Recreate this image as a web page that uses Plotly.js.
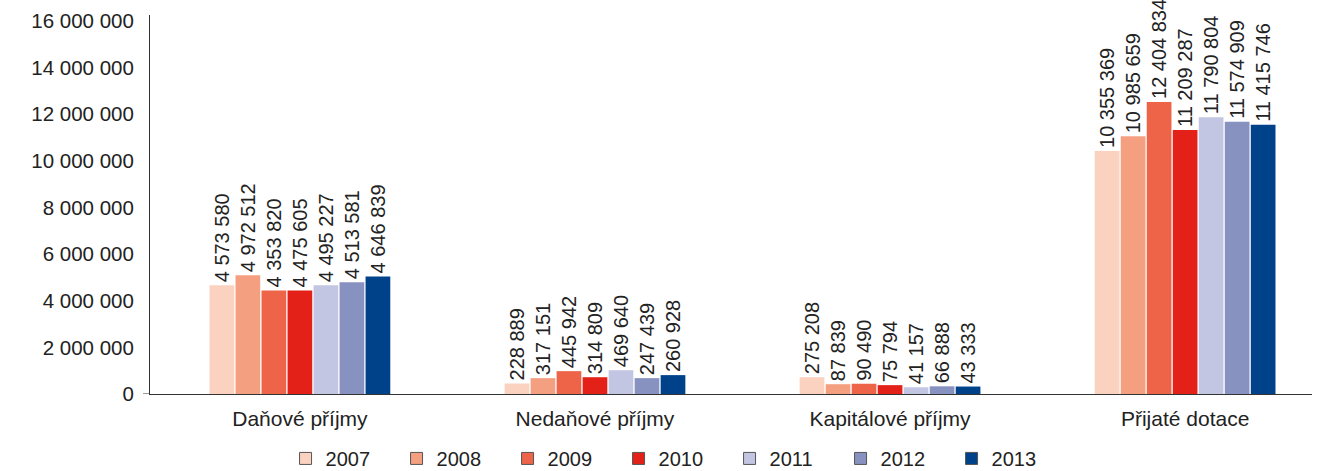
<!DOCTYPE html>
<html>
<head>
<meta charset="utf-8">
<script src="https://cdn.plot.ly/plotly-3.0.1.min.js"></script>
<style>html,body{margin:0;padding:0;background:#fff}#chart{width:1327px;height:471px}</style>
</head>
<body>
<div id="chart"></div>
<script>
const categories = ["Daňové příjmy", "Nedaňové příjmy", "Kapitálové příjmy", "Přijaté dotace"];
const years = ["2007", "2008", "2009", "2010", "2011", "2012", "2013"];

// bar heights as drawn in the picture
const v2007 = [4660000, 450000, 720000, 10420000];
const v2008 = [5090000, 680000, 420000, 11050000];
const v2009 = [4440000, 980000, 440000, 12520000];
const v2010 = [4440000, 720000, 380000, 11320000];
const v2011 = [4660000, 1020000, 290000, 11870000];
const v2012 = [4790000, 680000, 330000, 11670000];
const v2013 = [5040000, 810000, 320000, 11540000];

// value labels printed above the bars
const t2007 = ["4 573 580", "228 889", "275 208", "10 355 369"];
const t2008 = ["4 972 512", "317 151", "87 839", "10 985 659"];
const t2009 = ["4 353 820", "445 942", "90 490", "12 404 834"];
const t2010 = ["4 475 605", "314 809", "75 794", "11 209 287"];
const t2011 = ["4 495 227", "469 640", "41 157", "11 790 804"];
const t2012 = ["4 513 581", "247 439", "66 888", "11 574 909"];
const t2013 = ["4 646 839", "260 928", "43 333", "11 415 746"];

const colors = ["#fbd1bf", "#f49f80", "#ed6448", "#e32119", "#c3c6e3", "#8892c1", "#00428a"];

const yTickVals = [0, 2000000, 4000000, 6000000, 8000000, 10000000, 12000000, 14000000, 16000000];
const yTickText = ["0", "2 000 000", "4 000 000", "6 000 000", "8 000 000", "10 000 000", "12 000 000", "14 000 000", "16 000 000"];

const values = [v2007, v2008, v2009, v2010, v2011, v2012, v2013];
const texts = [t2007, t2008, t2009, t2010, t2011, t2012, t2013];

const FONT = "Liberation Sans, Arial, Helvetica, sans-serif";
const TXT = "#222";

const traces = [];
years.forEach((yr, i) => {
  traces.push({
    type: "bar",
    name: yr,
    x: categories,
    y: values[i],
    text: texts[i],
    textposition: "outside",
    textangle: -90,
    constraintext: "none",
    cliponaxis: false,
    textfont: {family: FONT, size: 20, color: TXT},
    marker: {color: colors[i], line: {width: 0}},
    showlegend: false,
    hoverinfo: "x+y+name"
  });
});
years.forEach((yr, i) => {
  traces.push({
    type: "scatter",
    mode: "markers",
    name: yr,
    x: [null],
    y: [null],
    marker: {symbol: "square", size: 12, color: colors[i], line: {color: "#555", width: 1}},
    showlegend: true
  });
});

const layout = {
  width: 1327,
  height: 471,
  margin: {l: 150, r: 15, t: 15, b: 77, autoexpand: false},
  paper_bgcolor: "#fff",
  plot_bgcolor: "#fff",
  barmode: "group",
  bargap: 0.383,
  bargroupgap: 0.05,
  font: {family: FONT, size: 20, color: TXT},
  xaxis: {
    type: "category",
    range: [-0.508, 3.43],
    showline: true,
    linecolor: "#333",
    linewidth: 1,
    ticks: "",
    showgrid: false,
    zeroline: false,
    tickfont: {family: FONT, size: 21, color: TXT},
    ticklabelstandoff: 6,
    automargin: false,
    fixedrange: true
  },
  yaxis: {
    range: [0, 16250000],
    tickvals: yTickVals,
    ticktext: yTickText,
    showline: true,
    linecolor: "#333",
    linewidth: 1,
    ticks: "",
    showgrid: false,
    zeroline: false,
    tickfont: {family: FONT, size: 20.5, color: TXT},
    ticklabelstandoff: 11,
    automargin: false,
    fixedrange: true
  },
  legend: {
    orientation: "h",
    x: 0.451,
    xanchor: "center",
    y: -0.17,
    yanchor: "middle",
    font: {family: FONT, size: 20, color: TXT},
    entrywidth: 66,
    itemclick: false
  },
  shapes: [
    {type: "line", xref: "paper", yref: "y", x0: -0.006, x1: 0, y0: 0, y1: 0, line: {color: "#333", width: 1}}
  ]
};

Plotly.newPlot("chart", traces, layout, {displayModeBar: false, staticPlot: true});
</script>
</body>
</html>
